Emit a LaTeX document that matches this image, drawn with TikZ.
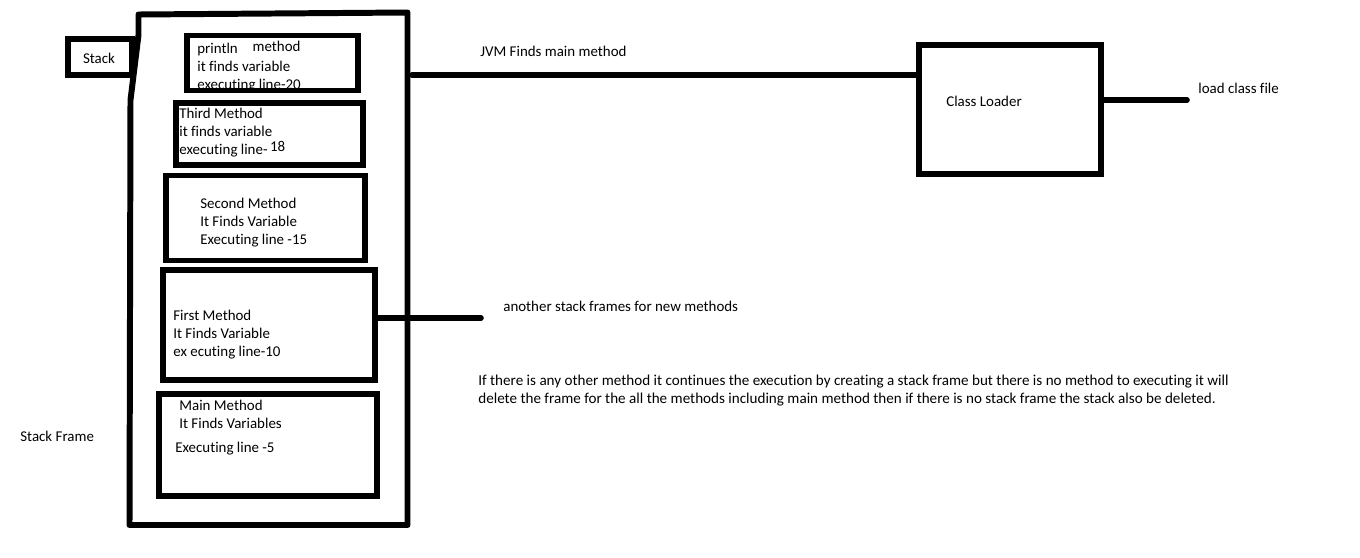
\documentclass[tikz,border=0pt]{standalone}
\usepackage{fontspec}
\setmainfont{Carlito}[Ligatures=NoCommon]
\tikzset{
  frame/.style={draw, line width=3.4pt, inner sep=0pt},
  txt/.style={inner sep=0pt, align=left, font=\fontsize{8.5}{10.2}\selectfont},
  wire/.style={line width=3.2pt, line cap=round},
}

\begin{document}
\begin{tikzpicture}[x=0.02cm, y=-0.02cm]%[scale=0.8]
%\draw [help lines] (0,0) grid[step=50] (1360,558);
\useasboundingbox (0,0) rectangle (1360,558);
\draw [line width=3.4pt, line join=round] (138.5,14.5)--(407.5,12.5)--(407.5,525)--(129.5,525)--(130.5,100)--(138.5,35)--cycle;
\node [frame, minimum width=1.28cm, minimum height=0.72cm] (stack) at (100,57) {};
\node [txt] (stacklbl) at (99,58) {Stack};
\node [txt, anchor=west] (framelbl) at (20,436) {Stack Frame};
% the frames
\node [frame, minimum width=3.44cm, minimum height=1.1cm] (println) at (272.5,63) {};
\node [txt, anchor=north west] (printlntxt) at (197,41) {println\hspace{6.5pt} \raisebox{1pt}{method}\\it finds variable\\executing line-20};
\node [frame, minimum width=3.74cm, minimum height=1.24cm] (third) at (269.5,134) {};
\node [txt, anchor=north west] (thirdtxt) at (179,108) {Third Method\\it finds variable\\executing line-\,\raisebox{1.7pt}{18}};
\node [frame, minimum width=4cm, minimum height=1.7cm] (second) at (265.5,218) {};
\node [txt, anchor=north west] (secondtxt) at (200,198) {Second Method\\It Finds Variable\\Executing line -15};
\node [frame, minimum width=4.24cm, minimum height=2.2cm] (first) at (269,325) {};
\node [txt, anchor=north west] (firsttxt) at (173,310) {First Method\\It Finds Variable\\ex ecuting line-10};
\node [frame, minimum width=4.36cm, minimum height=2.04cm] (main) at (268,445) {};
\node [txt, anchor=north west] (maintxt) at (179,400) {Main Method\\It Finds Variables\\[3.4pt]\hspace*{-2.3pt}Executing line -5};
% class loader side
\node [frame, minimum width=3.64cm, minimum height=2.58cm] (cl) at (1010,109.5) {};
\node [txt, anchor=west] (cltxt) at (946,101) {Class Loader};
\coordinate (jvmL) at (412,75);
\draw [wire] (jvmL) -- (jvmL -| cl.west);
\node [txt, anchor=west] (jvmtxt) at (480,51) {JVM Finds main method};
\coordinate (loadR) at (1187,100);
\draw [wire] (loadR -| cl.east) -- (loadR);
\node [txt, anchor=west] (loadtxt) at (1198,88) {load class file};
\coordinate (newR) at (481,318);
\draw [wire] (newR -| first.east) -- (newR);
\node [txt, anchor=west] (newtxt) at (503,306) {another stack frames for new methods};
\node [txt, anchor=north west, font=\fontsize{8.6}{10.2}\selectfont] (note) at (478,374.5) {If there is any other method it continues the execution by creating a stack frame but there is no method to executing it will\\delete the frame for the all the methods including main method then if there is no stack frame the stack also be deleted.};
\end{tikzpicture}
\end{document}
